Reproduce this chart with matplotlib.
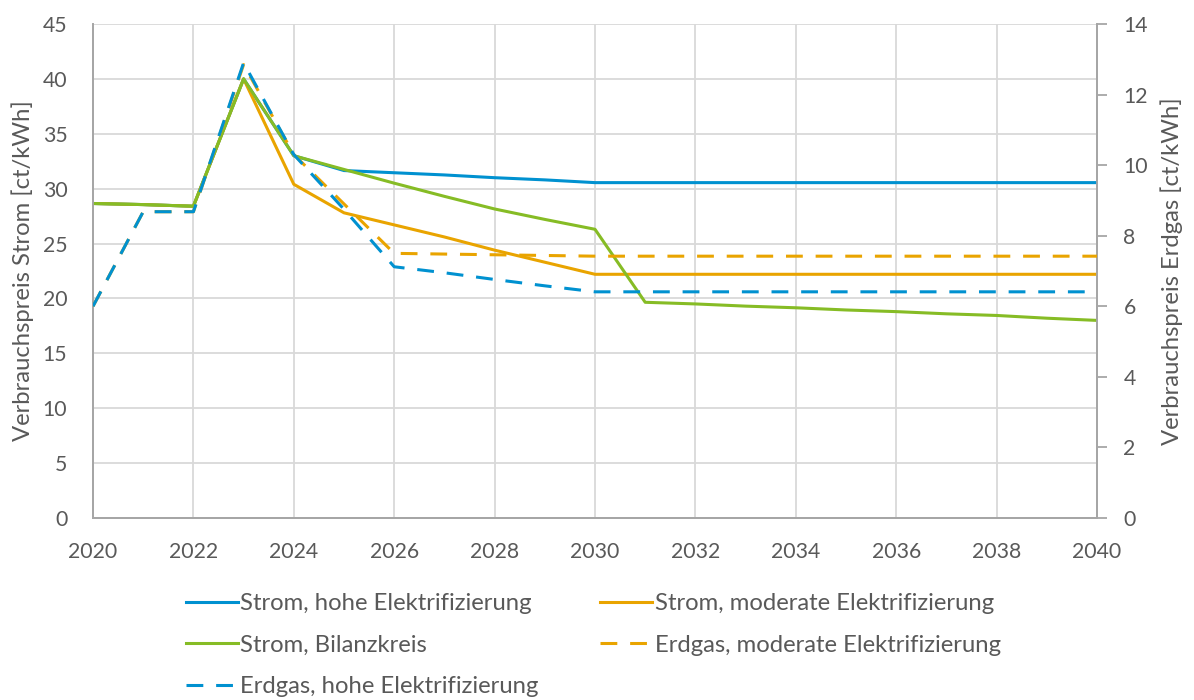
import matplotlib
matplotlib.use("Agg")
import matplotlib.pyplot as plt
from matplotlib.ticker import MultipleLocator

plt.rcParams["font.family"] = ["Lato", "DejaVu Sans"]

# Years with data points
years = [2020, 2021, 2022, 2023, 2024, 2025, 2026, 2027, 2028, 2029, 2030,
         2031, 2032, 2033, 2034, 2035, 2036, 2037, 2038, 2039, 2040]

# Electricity prices [ct/kWh] (left axis)
strom_hoch = [28.65, 28.55, 28.4, 40.0, 33.0, 31.65, 31.45, 31.25, 31.0, 30.8, 30.55,
              30.55, 30.55, 30.55, 30.55, 30.55, 30.55, 30.55, 30.55, 30.55, 30.55]
strom_moderat = [28.65, 28.55, 28.4, 40.0, 30.4, 27.8, 26.7, 25.6, 24.4, 23.3, 22.2,
                 22.2, 22.2, 22.2, 22.2, 22.2, 22.2, 22.2, 22.2, 22.2, 22.2]
strom_bilanzkreis = [28.65, 28.55, 28.4, 40.0, 33.0, 31.75, 30.5, 29.3, 28.15, 27.2, 26.3,
                     19.65, 19.5, 19.3, 19.15, 18.95, 18.8, 18.6, 18.45, 18.2, 18.0]

# Natural gas prices [ct/kWh] (right axis)
erdgas_moderat = [6.0, 8.68, 8.68, 12.85, 10.3, 8.9, 7.5, 7.48, 7.46, 7.44, 7.42,
                  7.42, 7.42, 7.42, 7.42, 7.42, 7.42, 7.42, 7.42, 7.42, 7.42]
erdgas_hoch = [6.0, 8.68, 8.68, 12.9, 10.3, 8.75, 7.12, 6.95, 6.76, 6.58, 6.41,
               6.41, 6.41, 6.41, 6.41, 6.41, 6.41, 6.41, 6.41, 6.41, 6.41]

labels = ["Strom, hohe Elektrifizierung", "Strom, moderate Elektrifizierung",
          "Strom, Bilanzkreis", "Erdgas, moderate Elektrifizierung",
          "Erdgas, hohe Elektrifizierung"]

BLUE = "#0091d0"
ORANGE = "#e9a400"
GREEN = "#86bc25"
TEXT = "#595959"
GRID = "#d9d9d9"
SPINE = "#a6a6a6"

fig = plt.figure(figsize=(11.94, 7.0), dpi=100)
ax = fig.add_axes([93 / 1194, 1 - 518 / 700, (1097 - 93) / 1194, (518 - 24) / 700])
ax2 = ax.twinx()

lw = 2.2
dash = (0, (5.5, 4.2))
l1, = ax.plot(years, strom_hoch, color=BLUE, lw=lw, label=labels[0], zorder=3)
l2, = ax.plot(years, strom_moderat, color=ORANGE, lw=lw, label=labels[1], zorder=3)
l3, = ax.plot(years, strom_bilanzkreis, color=GREEN, lw=lw, label=labels[2], zorder=4)
l4, = ax2.plot(years, erdgas_moderat, color=ORANGE, lw=lw, ls=dash,
               dash_capstyle="butt", label=labels[3], zorder=3)
l5, = ax2.plot(years, erdgas_hoch, color=BLUE, lw=lw, ls=dash,
               dash_capstyle="butt", label=labels[4], zorder=4)

ax.set_xlim(2020, 2040)
ax.set_ylim(0, 45)
ax2.set_ylim(0, 14)
ax.xaxis.set_major_locator(MultipleLocator(2))
ax.yaxis.set_major_locator(MultipleLocator(5))
ax2.yaxis.set_major_locator(MultipleLocator(2))

ax.grid(True, color=GRID, lw=1.3, zorder=0)
ax.set_axisbelow(True)

for a in (ax, ax2):
    a.spines["top"].set_visible(False)
    for side in ("left", "right", "bottom"):
        a.spines[side].set_color(SPINE)
        a.spines[side].set_linewidth(1.3)

tick_fs = 15.3
label_fs = 17.2
ax.tick_params(axis="y", length=0, labelsize=tick_fs, labelcolor=TEXT, pad=18.5)
ax.tick_params(axis="x", length=0, labelsize=tick_fs, labelcolor=TEXT, pad=17)
ax2.tick_params(axis="y", length=7, width=1.3, color=SPINE, labelsize=tick_fs,
                labelcolor=TEXT, pad=12, direction="out")

ax.set_ylabel("Verbrauchspreis Strom [ct/kWh]", fontsize=label_fs, color=TEXT, labelpad=6)
ax2.set_ylabel("Verbrauchspreis Erdgas [ct/kWh]", fontsize=label_fs, color=TEXT, labelpad=9)

# Legend filled column by column: left column holds items 1, 3, 5
handles = [l1, l3, l5, l2, l4]
leg_labels = [labels[0], labels[2], labels[4], labels[1], labels[3]]
fig.legend(handles, leg_labels, loc="upper left", bbox_to_anchor=(164 / 1194, 1 - 572 / 700),
           ncol=2, frameon=False, fontsize=label_fs, labelcolor=TEXT, handlelength=2.2,
           handletextpad=0.1, columnspacing=2.55, labelspacing=0.85)

fig.savefig("out.png", dpi=100)
